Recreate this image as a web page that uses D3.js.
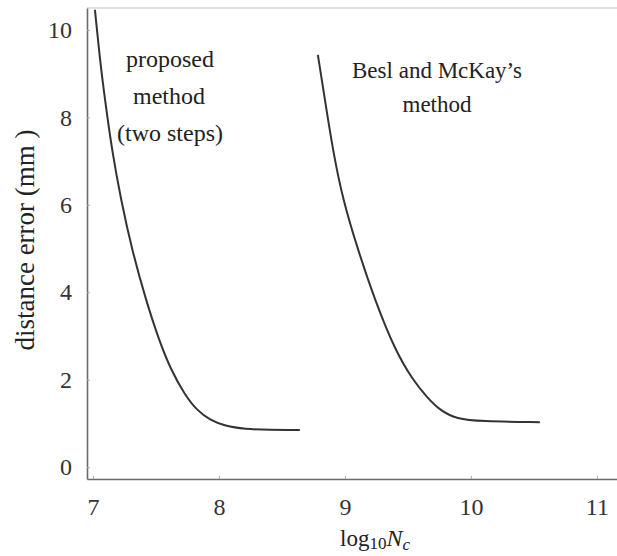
<!DOCTYPE html>
<html>
<head>
<meta charset="utf-8">
<script src="https://cdn.jsdelivr.net/npm/d3@7"></script>
<style>
  html, body { margin: 0; padding: 0; background: #fff; }
  svg { display: block; }
  svg text { font-family: "Liberation Serif", "DejaVu Serif", serif; }
</style>
</head>
<body>
<svg id="main-svg" width="617" height="556"></svg>
<script>
// tick values
const xTicks = [7, 8, 9, 10, 11];
const yTicks = [0, 2, 4, 6, 8, 10];

// log10 Nc vs distance error (mm)
const proposedX = [7.015, 7.055, 7.095, 7.150, 7.222, 7.309, 7.420, 7.523, 7.619, 7.730, 7.825, 7.928, 8.047, 8.206, 8.404, 8.642];
const proposedY = [10.46, 9.31, 8.40, 7.25, 6.11, 4.97, 3.82, 2.91, 2.22, 1.65, 1.30, 1.08, 0.94, 0.87, 0.85, 0.85];

const beslX = [8.785, 8.841, 8.904, 8.984, 9.103, 9.238, 9.397, 9.54, 9.651, 9.754, 9.889, 10.071, 10.548];
const beslY = [9.43, 8.40, 7.25, 6.11, 4.97, 3.82, 2.68, 1.99, 1.60, 1.30, 1.10, 1.05, 1.03];

const svg = d3.select("#main-svg");

// scales, the frame runs a little past the outer ticks
const x = d3.scaleLinear().domain([6.952, 11.16]).range([87, 617]);
const y = d3.scaleLinear().domain([-0.27, 10.5]).range([479, 8]);

// top border
svg.append("line")
    .attr("x1", x.range()[0]).attr("x2", x.range()[1])
    .attr("y1", y.range()[1]).attr("y2", y.range()[1])
    .attr("stroke", "#c4c4c4")
    .attr("stroke-width", 1.2);

// axes
const xAxis = svg.append("g")
    .attr("transform", `translate(0,${y.range()[0]})`)
    .call(d3.axisBottom(x).tickValues(xTicks).tickFormat(d3.format("d"))
        .tickSizeInner(-3).tickSizeOuter(0).tickPadding(19));

const yAxis = svg.append("g")
    .attr("transform", `translate(${x.range()[0]},0)`)
    .call(d3.axisLeft(y).tickValues(yTicks).tickFormat(d3.format("d"))
        .tickSizeInner(-3).tickSizeOuter(0).tickPadding(15));

[xAxis, yAxis].forEach(a => {
    a.attr("font-family", null);
    a.select(".domain").attr("stroke", "#6a6a6a").attr("stroke-width", 1.6);
    a.selectAll(".tick line").attr("stroke", "#aaa");
    a.selectAll(".tick text")
        .style("font-size", "24px")
        .attr("fill", "#333");
});

// curves
const line = d3.line()
    .x(d => x(d[0]))
    .y(d => y(d[1]))
    .curve(d3.curveBasis);

const series = [
    d3.zip(proposedX, proposedY),
    d3.zip(beslX, beslY)
];

svg.selectAll("path.curve")
    .data(series)
    .enter().append("path")
    .attr("class", "curve")
    .attr("d", line)
    .attr("fill", "none")
    .attr("stroke", "#333")
    .attr("stroke-width", 2);

// annotations
const notes = [
    { text: "proposed", x: 170, y: 67, size: 24 },
    { text: "method", x: 169, y: 104, size: 24 },
    { text: "(two steps)", x: 170, y: 141, size: 24 },
    { text: "Besl and McKay\u2019s", x: 437, y: 78, size: 23 },
    { text: "method", x: 437, y: 112, size: 23 }
];

svg.selectAll("text.note")
    .data(notes)
    .enter().append("text")
    .attr("class", "note")
    .attr("x", d => d.x)
    .attr("y", d => d.y)
    .attr("text-anchor", "middle")
    .style("font-size", d => d.size + "px")
    .attr("fill", "#222")
    .text(d => d.text);

// axis titles
svg.append("text")
    .attr("transform", "translate(34,240) rotate(-90)")
    .attr("text-anchor", "middle")
    .style("font-size", "27px")
    .attr("fill", "#222")
    .text("distance error (mm )");

const xl = svg.append("text")
    .attr("x", 375)
    .attr("y", 546)
    .attr("text-anchor", "middle")
    .style("font-size", "23px")
    .attr("fill", "#222");
xl.append("tspan").text("log");
xl.append("tspan").style("font-size", "17px").attr("dy", 3).text("10");
xl.append("tspan").attr("font-style", "italic").style("font-size", "24px").attr("dy", -3).text("N");
xl.append("tspan").attr("font-style", "italic").style("font-size", "17px").attr("dy", 4).text("c");
</script>
</body>
</html>
